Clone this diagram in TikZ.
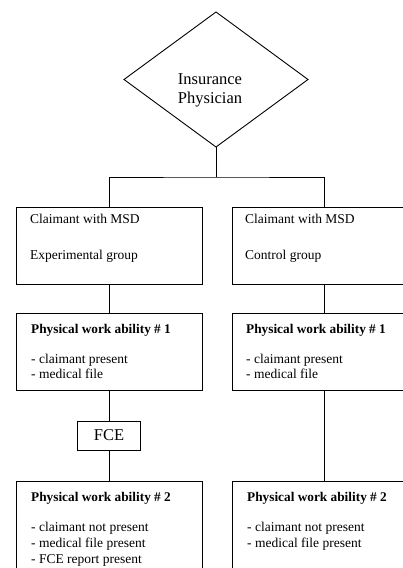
\documentclass[tikz,border=0pt]{standalone}
\usepackage{fontspec}
\setmainfont{Liberation Serif}
\usetikzlibrary{shapes.geometric}
\tikzset{
  ln/.style={draw=black, line width=0.9pt},
  boxstyle/.style={ln, rectangle, inner sep=0pt, outer sep=0pt, anchor=north west},
  txt/.style={anchor=base west, inner sep=0pt, font=\fontsize{13.5}{15}\selectfont},
  btxt/.style={anchor=base west, inner sep=0pt, font=\fontsize{13.3}{15}\selectfont\bfseries},
}
\begin{document}
\begin{tikzpicture}[x=1pt,y=-1pt]
\useasboundingbox (0,0) rectangle (403,568);
\clip (0,0) rectangle (403,568);
\fill[white] (0,0) rectangle (403,568);
% diamond
\node[ln, diamond, minimum width=184pt, minimum height=135pt, inner sep=0pt, outer sep=0pt] (ip) at (216,79.5) {};
\node[align=center, inner sep=0pt, font=\fontsize{16.5}{19}\selectfont] (iptxt) at (210,90) {Insurance\\Physician};
% boxes
\node[boxstyle, minimum width=186pt, minimum height=77pt] (c1) at (16,207) {};
\node[boxstyle, minimum width=184pt, minimum height=77pt] (c2) at (232,207) {};
\node[boxstyle, minimum width=186pt, minimum height=77pt] (p1) at (16,313) {};
\node[boxstyle, minimum width=184pt, minimum height=77pt] (q1) at (232,313) {};
\node[ln, rectangle, inner sep=0pt, outer sep=0pt, minimum width=63pt, minimum height=29pt, font=\fontsize{16.5}{19}\selectfont] (fce) at (109,435.5) {FCE};
\node[boxstyle, minimum width=186pt, minimum height=120pt] (p2) at (16,481) {};
\node[boxstyle, minimum width=184pt, minimum height=120pt] (q2) at (232,481) {};
% connectors
\coordinate (split) at (216,177);
\draw[ln] (ip.south) -- (split);
\draw[ln] (c1.north) |- (split) -| (c2.north);
\draw[ln] (c1.south) -- (p1.north);
\draw[ln] (c2.south) -- (q1.north);
\draw[ln] (p1.south) -- (fce.north);
\draw[ln] (fce.south) -- (p2.north);
\draw[ln] (q1.south) -- (q2.north);
% texts
\node[txt] (c1a) at (30,223) {Claimant with MSD};
\node[txt] (c1b) at (30,259) {Experimental group};
\node[txt] (c2a) at (245,223) {Claimant with MSD};
\node[txt] (c2b) at (245,259) {Control group};
\node[btxt] (p1a) at (31,333) {Physical work ability \# 1};
\node[txt] (p1b) at (31,363) {- claimant present};
\node[txt] (p1c) at (31,378) {- medical file};
\node[btxt] (q1a) at (246,333) {Physical work ability \# 1};
\node[txt] (q1b) at (246,363) {- claimant present};
\node[txt] (q1c) at (246,378) {- medical file};
\node[btxt] (p2a) at (31,501) {Physical work ability \# 2};
\node[txt] (p2b) at (31,531) {- claimant not present};
\node[txt] (p2c) at (31,547) {- medical file present};
\node[txt] (p2d) at (31,563) {- FCE report present};
\node[btxt] (q2a) at (247,501) {Physical work ability \# 2};
\node[txt] (q2b) at (247,531) {- claimant not present};
\node[txt] (q2c) at (247,547) {- medical file present};
\end{tikzpicture}
\end{document}
